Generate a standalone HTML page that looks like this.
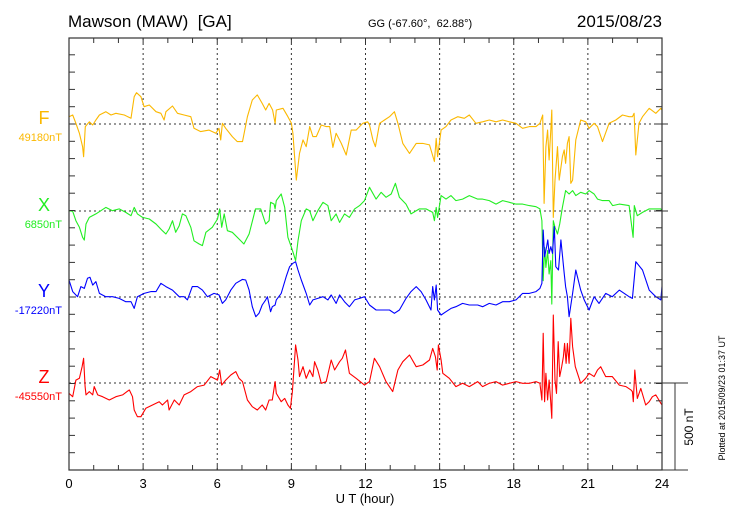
<!DOCTYPE html>
<html><head><meta charset="utf-8"><style>
html,body{margin:0;padding:0;background:#fff}
svg{display:block;font-family:"Liberation Sans",sans-serif}
text{white-space:pre}
</style></head><body>
<svg id="chart" width="730" height="520" viewBox="0 0 730 520" xmlns="http://www.w3.org/2000/svg">
<text x="68" y="27" font-size="17">Mawson (MAW)&#160; [GA]</text>
<text x="368" y="27" font-size="11">GG (-67.60°,&#160; 62.88°)</text>
<text x="662" y="27" font-size="17" text-anchor="end">2015/08/23</text>
<text x="365" y="503" font-size="13" text-anchor="middle">U T (hour)</text>
<text transform="translate(693,427) rotate(-90)" font-size="12" text-anchor="middle">500 nT</text>
<text transform="translate(725,398) rotate(-90)" font-size="9" text-anchor="middle">Plotted at 2015/09/23 01:37 UT</text>
<g id="grid"></g><g id="series"></g><g id="axes"></g>
</svg>
<script>
const hourTicks=[0,3,6,9,12,15,18,21,24];
const channelNames=["F","X","Y","Z"];
const channelBases=["49180nT","6850nT","-17220nT","-45550nT"];
const fT=[0,0.15,0.28,0.42,0.55,0.59,0.66,0.82,0.96,1.09,1.23,1.49,1.70,1.90,2.24,2.51,2.64,2.73,2.91,3.04,3.25,3.52,3.72,3.85,3.92,4.19,4.39,4.66,4.93,5.06,5.33,5.67,5.94,6.07,6.14,6.21,6.34,6.61,6.81,7.02,7.22,7.42,7.62,7.82,7.96,8.10,8.24,8.34,8.39,8.66,8.86,9.00,9.06,9.20,9.33,9.47,9.60,9.74,9.87,10.01,10.21,10.41,10.55,10.68,10.81,11.02,11.22,11.42,11.62,11.89,12.09,12.16,12.30,12.40,12.57,12.77,12.97,13.17,13.31,13.51,13.78,14.05,14.32,14.59,14.79,14.86,14.92,15.06,15.26,15.46,15.73,16.00,16.20,16.47,16.74,17.01,17.28,17.55,17.82,18.09,18.36,18.63,18.90,19.06,19.17,19.23,19.30,19.37,19.43,19.50,19.54,19.60,19.67,19.77,19.84,19.97,20.04,20.10,20.17,20.24,20.31,20.38,20.51,20.71,20.91,21.05,21.25,21.39,21.59,21.86,22.13,22.40,22.67,22.80,22.87,22.94,23.07,23.21,23.48,23.75,23.95,24];
const fV=[42,52,4,-54,-131,-189,-15,13,-6,23,52,71,52,62,52,33,158,181,158,100,110,71,62,23,71,104,62,52,42,-25,-44,-35,-54,-25,-92,4,-25,-73,-102,-102,42,139,168,119,81,119,81,4,81,91,42,4,-54,-324,-170,-92,-131,-15,-73,-73,-6,-15,-15,-135,-54,-112,-179,-35,-35,4,13,-6,-92,-131,4,23,42,71,4,-112,-170,-112,-112,-121,-217,-83,-189,-35,-15,23,42,33,52,4,13,23,13,23,13,4,-25,-15,-15,4,52,-459,-131,-35,-208,-35,81,-540,-324,-131,-324,-189,-150,-227,-112,-73,-343,-324,-92,23,13,-25,4,-15,-102,4,23,52,42,42,62,-179,4,42,91,62,91,81,98];
const xT=[0,0.15,0.28,0.42,0.55,0.62,0.69,0.82,1.09,1.49,1.76,2.03,2.30,2.51,2.64,2.77,2.98,3.25,3.52,3.78,3.92,4.05,4.19,4.32,4.46,4.59,4.73,4.93,5.06,5.27,5.40,5.54,5.80,6.01,6.10,6.18,6.28,6.41,6.61,6.88,7.08,7.29,7.55,7.76,7.96,8.10,8.16,8.30,8.34,8.39,8.59,8.73,8.86,9.00,9.09,9.17,9.27,9.40,9.60,9.74,9.87,10.07,10.28,10.48,10.61,10.81,10.95,11.15,11.35,11.56,11.76,11.96,12.16,12.43,12.63,12.83,13.04,13.21,13.37,13.64,13.84,14.18,14.45,14.72,14.79,14.86,14.92,15.06,15.26,15.46,15.66,15.93,16.20,16.54,16.74,17.01,17.28,17.55,17.82,18.09,18.36,18.63,18.90,19.06,19.14,19.19,19.25,19.30,19.37,19.43,19.50,19.54,19.60,19.67,19.77,19.86,19.97,20.10,20.24,20.38,20.51,20.71,20.91,21.05,21.25,21.39,21.59,21.86,22.00,22.27,22.67,22.83,22.88,23.00,23.21,23.48,23.75,23.95,24];
const xV=[2,-2,-56,-94,-152,-168,-75,-37,-17,21,2,12,-8,-27,21,-17,-37,-46,-75,-114,-133,-104,-56,-123,-85,-17,-27,-94,-172,-191,-200,-123,-94,-46,12,-94,-17,-114,-123,-162,-191,-133,12,12,-75,-56,50,40,12,60,98,21,-152,-210,-249,-287,-172,-56,12,2,-56,2,50,31,-56,-17,-66,-17,-37,12,31,60,137,69,108,79,98,160,79,40,-17,12,12,-8,-56,21,-37,89,69,89,60,69,89,69,69,60,40,60,50,40,40,31,25,12,-56,-403,-210,-326,-229,-364,-287,-538,-56,-94,-133,-75,21,118,98,118,89,108,98,118,98,69,60,60,31,40,31,-152,31,-27,-8,12,12,12,0];
const yT=[0,0.15,0.35,0.48,0.62,0.75,0.85,0.96,1.09,1.23,1.49,1.76,2.03,2.30,2.51,2.64,2.77,3.04,3.31,3.52,3.72,3.92,4.19,4.46,4.66,4.79,4.99,5.20,5.40,5.60,5.87,6.07,6.21,6.34,6.55,6.75,7.02,7.15,7.29,7.42,7.56,7.69,7.82,7.96,8.03,8.16,8.23,8.34,8.39,8.59,8.79,8.93,9.06,9.17,9.27,9.40,9.60,9.74,9.87,10.07,10.28,10.48,10.61,10.81,10.95,11.15,11.35,11.56,11.76,11.96,12.16,12.43,12.70,12.97,13.17,13.37,13.64,13.84,14.05,14.25,14.45,14.65,14.72,14.79,14.86,14.92,15.06,15.26,15.46,15.66,15.93,16.20,16.54,16.74,17.01,17.28,17.55,17.82,18.09,18.36,18.63,18.90,19.06,19.14,19.19,19.25,19.33,19.38,19.43,19.50,19.57,19.64,19.70,19.81,19.91,20.04,20.10,20.17,20.24,20.38,20.51,20.71,20.85,21.05,21.25,21.45,21.72,21.99,22.27,22.67,22.80,22.94,23.21,23.48,23.75,23.95,24];
const yV=[98,31,2,60,50,108,114,69,89,21,2,2,-8,-27,-27,-66,2,21,31,31,79,60,40,2,2,-17,60,60,40,2,21,12,-37,-17,40,79,102,98,40,-56,-114,-94,-46,-17,2,-85,-56,-46,-17,21,118,175,195,204,156,98,21,-46,-17,-8,2,-17,12,-37,12,-27,-56,-17,-8,2,-46,-75,-75,-75,-94,-75,-8,31,60,31,-17,-75,60,-17,69,-75,-104,-85,-66,-56,-37,-46,-46,-56,-37,-46,-27,-27,-17,21,21,31,50,79,387,233,291,330,252,291,252,407,175,156,330,137,60,2,-114,21,156,40,-17,-75,2,-37,21,2,40,2,-8,204,156,40,2,-17,60,69];
const zT=[0,0.15,0.28,0.42,0.53,0.59,0.65,0.69,0.82,0.96,1.02,1.16,1.36,1.63,1.90,2.17,2.44,2.57,2.64,2.77,2.91,3.11,3.38,3.65,3.78,3.99,4.05,4.26,4.46,4.66,4.93,5.20,5.47,5.74,6.01,6.10,6.18,6.34,6.55,6.75,6.88,7.02,7.22,7.42,7.62,7.82,7.96,8.10,8.23,8.34,8.39,8.59,8.73,8.86,8.96,9.04,9.17,9.27,9.33,9.47,9.60,9.74,9.87,9.94,10.07,10.21,10.41,10.61,10.75,10.95,11.06,11.19,11.35,11.62,11.96,12.16,12.36,12.57,12.83,13.10,13.31,13.51,13.78,14.05,14.32,14.59,14.72,14.83,14.90,14.95,15.06,15.13,15.39,15.66,15.93,16.20,16.54,16.74,17.01,17.28,17.55,17.82,18.09,18.36,18.63,18.90,19.06,19.14,19.19,19.25,19.30,19.37,19.43,19.49,19.54,19.60,19.67,19.73,19.80,19.86,19.94,20.01,20.06,20.12,20.17,20.24,20.31,20.38,20.49,20.71,20.91,21.05,21.25,21.39,21.52,21.72,21.99,22.27,22.54,22.74,22.80,22.84,22.90,23.00,23.14,23.34,23.48,23.61,23.75,23.95,24];
const zV=[-60,-79,17,27,94,143,-21,-69,-50,-69,-21,-69,-79,-98,-79,-69,-40,-79,-156,-195,-195,-146,-127,-108,-127,-98,-156,-98,-127,-69,-50,-21,-12,37,17,75,-12,17,46,66,27,8,-98,-137,-156,-127,-156,-98,-98,8,-60,-108,-89,-127,-146,-50,220,133,37,94,27,75,37,123,75,-2,8,133,75,123,143,191,56,27,-12,8,143,94,8,-50,75,123,162,94,104,133,200,152,75,220,133,56,27,-21,-2,-21,8,-21,-2,8,-12,-2,8,-2,-2,8,-2,-98,287,-108,56,-98,17,-98,-204,393,17,-60,239,37,94,152,229,114,229,114,374,210,94,-2,27,56,37,75,94,37,37,-12,-21,-40,-50,-108,75,-89,-31,-127,-108,-79,-69,-117,-127,-116];

const NS="http://www.w3.org/2000/svg";
const X0=69,X1=662,Y0=38,Y1=470;
const baseY=[124,211,297,383];
const pxPerNT=17.3/100;
const colors=["#fbb800","#22ee22","#0000ff","#ff0000"];
function sx(h){return X0+(X1-X0)*h/24;}
function sy(i,v){return baseY[i]-v*pxPerNT;}
function mk(tag,attrs,parent){const e=document.createElementNS(NS,tag);for(const k in attrs)e.setAttribute(k,attrs[k]);parent.appendChild(e);return e;}
const grid=document.getElementById('grid'),series=document.getElementById('series'),axes=document.getElementById('axes');

hourTicks.forEach(h=>{
  if(h>0&&h<24){const l=mk('line',{x1:sx(h),x2:sx(h),y1:Y0,y2:Y1,stroke:'#333','stroke-width':1,'stroke-dasharray':'2,3'},grid);
  
  }
  const t=mk('text',{x:sx(h),y:488,'font-size':13,'text-anchor':'middle'},axes);
  t.textContent=h;
  
  
});
for(let h=1;h<24;h++){
  mk('line',{x1:sx(h),x2:sx(h),y1:Y1,y2:Y1-5,stroke:'#333'},axes);
  mk('line',{x1:sx(h),x2:sx(h),y1:Y0,y2:Y0+5,stroke:'#333'},axes);
}
for(let y=Y0+(baseY[0]-Y0)%17.3;y<Y1;y+=17.3){
  mk('line',{x1:X0,x2:X0+6,y1:y,y2:y,stroke:'#333'},axes);
  mk('line',{x1:X1,x2:X1-6,y1:y,y2:y,stroke:'#333'},axes);
}
baseY.forEach((b,i)=>{
  const l=mk('line',{x1:X0,x2:X1,y1:b,y2:b,stroke:'#333','stroke-dasharray':'2,3'},grid);
  
  
  mk('line',{x1:X1-6,x2:X1+6,y1:b,y2:b,stroke:'#333'},axes);
  const n=mk('text',{x:44,y:b,'font-size':18,'text-anchor':'middle',fill:colors[i]},axes);
  n.textContent=channelNames[i];
  
  
  const v=mk('text',{x:62,y:b+17,'font-size':11,'text-anchor':'end',fill:colors[i]},axes);
  v.textContent=channelBases[i];
  
  
});
const fr=mk('rect',{x:X0,y:Y0,width:X1-X0,height:Y1-Y0,fill:'none',stroke:'#333','stroke-width':1.2},axes);


mk('line',{x1:X1,x2:688,y1:baseY[3],y2:baseY[3],stroke:'#333'},axes);
mk('line',{x1:X1,x2:688,y1:Y1,y2:Y1,stroke:'#333'},axes);
const sb=mk('line',{x1:675,x2:675,y1:baseY[3],y2:baseY[3]+500*pxPerNT,stroke:'#333'},axes);



const T=[fT,xT,yT,zT],V=[fV,xV,yV,zV];
T.forEach((ts,i)=>{
  const d=ts.map((t,k)=>(k?'L':'M')+sx(t).toFixed(1)+' '+sy(i,V[i][k]).toFixed(1)).join(' ');
  const p=mk('path',{d:d,fill:'none',stroke:colors[i],'stroke-width':1.1,'stroke-linejoin':'round'},series);
  
  
});
</script>
</body></html>
